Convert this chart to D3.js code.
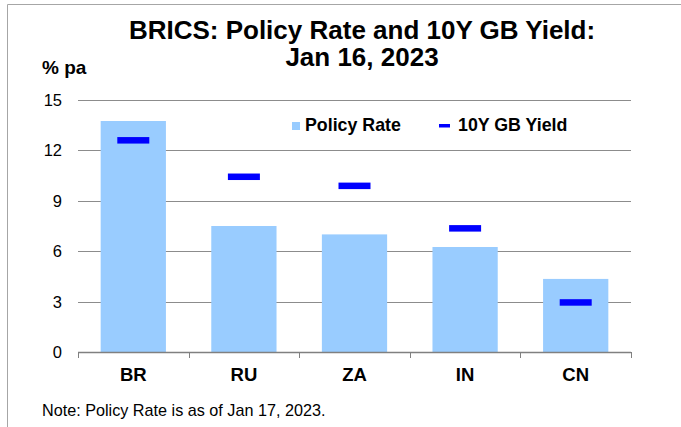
<!DOCTYPE html>
<html>
<head>
<meta charset="utf-8">
<script src="https://cdn.jsdelivr.net/npm/d3@7"></script>
<style>
  html, body { margin: 0; padding: 0; background: #fff; }
  svg { display: block; font-family: "Liberation Sans", Arial, sans-serif; }
</style>
</head>
<body>
<svg id="chart" width="681" height="427"></svg>
<script>
const categories = ["BR", "RU", "ZA", "IN", "CN"];
const policyRate = [13.75, 7.50, 7.00, 6.25, 4.35];
const gbYield = [12.60, 10.43, 9.89, 7.36, 2.95];
const yTicks = [0, 3, 6, 9, 12, 15];
const titleLines = ["BRICS: Policy Rate and 10Y GB Yield:", "Jan 16, 2023"];
const yUnit = "% pa";
const note = "Note: Policy Rate is as of Jan 17, 2023.";
const seriesNames = ["Policy Rate", "10Y GB Yield"];

const svg = d3.select("#chart");
const W = 681, H = 427;
const plot = { left: 78, right: 631, top: 100, bottom: 352 };

const x = d3.scaleBand().domain(categories).range([plot.left, plot.right])
  .paddingInner(0.41).paddingOuter(0.205);
const y = d3.scaleLinear().domain([0, 15]).range([plot.bottom, plot.top]);

// frame
svg.append("path").attr("d", `M7.5,${H} V4.5 H${W}`)
  .attr("fill", "none").attr("stroke", "#a6a6a6").attr("stroke-width", 1);

// title
const title = svg.append("text").attr("text-anchor", "middle")
  .attr("font-size", 26).attr("font-weight", "bold").attr("fill", "#000");
titleLines.forEach((t, i) => {
  title.append("tspan").attr("x", 362).attr("y", 39 + i * 27).text(t);
});

// unit label
svg.append("text").attr("x", 42).attr("y", 74).attr("font-size", 19)
  .attr("font-weight", "bold").text(yUnit);

// gridlines
svg.append("g").selectAll("line").data(yTicks.filter(d => d > 0)).join("line")
  .attr("x1", plot.left).attr("x2", plot.right)
  .attr("y1", d => Math.round(y(d)) + 0.5).attr("y2", d => Math.round(y(d)) + 0.5)
  .attr("stroke", "#8c8c8c").attr("stroke-width", 1);

// y tick labels
svg.append("g").selectAll("text").data(yTicks).join("text")
  .attr("x", 62).attr("y", d => y(d)).attr("dy", "0.36em")
  .attr("text-anchor", "end").attr("font-size", 16.5).text(d => d);

// bars
svg.append("g").selectAll("rect").data(categories).join("rect")
  .attr("x", d => x(d)).attr("width", x.bandwidth())
  .attr("y", (d, i) => y(policyRate[i]))
  .attr("height", (d, i) => y(0) - y(policyRate[i]))
  .attr("fill", "#99ccff");

// yield markers
const mw = 32, mh = 6.5;
svg.append("g").selectAll("rect").data(categories).join("rect")
  .attr("x", d => x(d) + x.bandwidth() / 2 - mw / 2).attr("width", mw)
  .attr("y", (d, i) => y(gbYield[i]) - mh / 2).attr("height", mh)
  .attr("fill", "#0000ff");

// x axis
const gx = svg.append("g").attr("transform", `translate(0,${plot.bottom})`);
gx.append("line").attr("x1", plot.left).attr("x2", plot.right)
  .attr("y1", 0.5).attr("y2", 0.5).attr("stroke", "#808080").attr("stroke-width", 1.5);
const bounds = categories.map(c => x(c) - x.step() * x.paddingInner() / 2);
bounds.push(plot.right);
bounds[0] = plot.left;
gx.selectAll("line.tk").data(bounds).join("line").attr("class", "tk")
  .attr("x1", d => Math.round(d) + 0.5).attr("x2", d => Math.round(d) + 0.5)
  .attr("y1", 0).attr("y2", 6).attr("stroke", "#808080").attr("stroke-width", 1);
gx.selectAll("text.xl").data(categories).join("text").attr("class", "xl")
  .attr("x", d => x(d) + x.bandwidth() / 2).attr("y", 29)
  .attr("text-anchor", "middle").attr("font-size", 18.5).attr("font-weight", "bold")
  .text(d => d);

// legend
const lg = svg.append("g");
lg.append("rect").attr("x", 292).attr("y", 122).attr("width", 8).attr("height", 8).attr("fill", "#99ccff");
lg.append("text").attr("x", 305).attr("y", 131).attr("font-size", 17.8).attr("font-weight", "bold").text(seriesNames[0]);
lg.append("rect").attr("x", 439).attr("y", 124).attr("width", 11).attr("height", 3.5).attr("fill", "#0000ff");
lg.append("text").attr("x", 458).attr("y", 131).attr("font-size", 17.8).attr("font-weight", "bold").text(seriesNames[1]);

// note
svg.append("text").attr("x", 42).attr("y", 416).attr("font-size", 16.2).text(note);
</script>
</body>
</html>
